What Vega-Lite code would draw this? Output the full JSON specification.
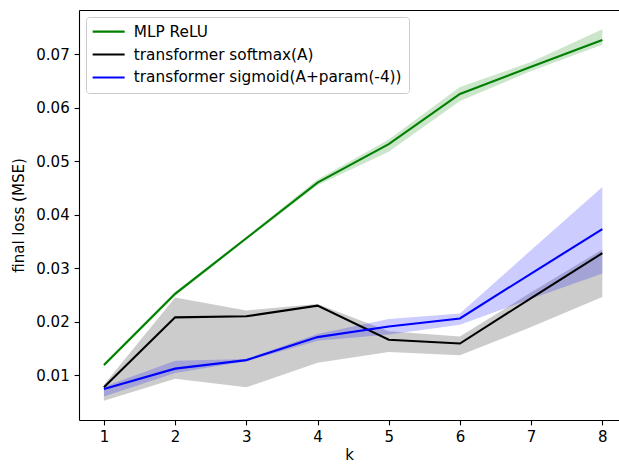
{
  "$schema": "https://vega.github.io/schema/vega-lite/v6.json",
  "width": 540,
  "height": 410,
  "autosize": {"type": "none"},
  "padding": {"left": 79, "top": 10, "right": 0, "bottom": 44},
  "background": "white",
  "config": {
    "font": "DejaVu Sans",
    "view": {"stroke": null},
    "axis": {
      "grid": false,
      "domainColor": "black",
      "domainWidth": 1.1,
      "tickColor": "black",
      "tickWidth": 1.1,
      "tickSize": 4.9,
      "labelPadding": 4.9,
      "labelFontSize": 15,
      "labelColor": "black",
      "titleFontSize": 15,
      "titleFontWeight": "normal",
      "titleColor": "black",
      "labelFont": "DejaVu Sans",
      "titleFont": "DejaVu Sans"
    }
  },
  "data": {
    "values": [
      {"model": "MLP ReLU", "k": 1, "mean": 0.0119, "lo": 0.0115, "hi": 0.0122},
      {"model": "MLP ReLU", "k": 2, "mean": 0.0252, "lo": 0.0248, "hi": 0.0256},
      {"model": "MLP ReLU", "k": 3, "mean": 0.0356, "lo": 0.0353, "hi": 0.0359},
      {"model": "MLP ReLU", "k": 4, "mean": 0.0460, "lo": 0.0455, "hi": 0.0466},
      {"model": "MLP ReLU", "k": 5, "mean": 0.0532, "lo": 0.0518, "hi": 0.0541},
      {"model": "MLP ReLU", "k": 6, "mean": 0.0626, "lo": 0.0613, "hi": 0.0639},
      {"model": "MLP ReLU", "k": 7, "mean": 0.0677, "lo": 0.0669, "hi": 0.0686},
      {"model": "MLP ReLU", "k": 8, "mean": 0.0727, "lo": 0.0718, "hi": 0.0747},
      {"model": "transformer softmax(A)", "k": 1, "mean": 0.0077, "lo": 0.0052, "hi": 0.0082},
      {"model": "transformer softmax(A)", "k": 2, "mean": 0.0208, "lo": 0.0093, "hi": 0.0245},
      {"model": "transformer softmax(A)", "k": 3, "mean": 0.0210, "lo": 0.0077, "hi": 0.0221},
      {"model": "transformer softmax(A)", "k": 4, "mean": 0.0230, "lo": 0.0123, "hi": 0.0233},
      {"model": "transformer softmax(A)", "k": 5, "mean": 0.0166, "lo": 0.0143, "hi": 0.0182},
      {"model": "transformer softmax(A)", "k": 6, "mean": 0.0159, "lo": 0.0137, "hi": 0.0172},
      {"model": "transformer softmax(A)", "k": 7, "mean": 0.0244, "lo": 0.0190, "hi": 0.0255},
      {"model": "transformer softmax(A)", "k": 8, "mean": 0.0328, "lo": 0.0246, "hi": 0.0335},
      {"model": "transformer sigmoid(A+param(-4))", "k": 1, "mean": 0.0074, "lo": 0.0060, "hi": 0.0078},
      {"model": "transformer sigmoid(A+param(-4))", "k": 2, "mean": 0.0112, "lo": 0.0104, "hi": 0.0127},
      {"model": "transformer sigmoid(A+param(-4))", "k": 3, "mean": 0.0128, "lo": 0.0126, "hi": 0.0130},
      {"model": "transformer sigmoid(A+param(-4))", "k": 4, "mean": 0.0171, "lo": 0.0164, "hi": 0.0177},
      {"model": "transformer sigmoid(A+param(-4))", "k": 5, "mean": 0.0191, "lo": 0.0176, "hi": 0.0205},
      {"model": "transformer sigmoid(A+param(-4))", "k": 6, "mean": 0.0206, "lo": 0.0194, "hi": 0.0215},
      {"model": "transformer sigmoid(A+param(-4))", "k": 7, "mean": 0.0290, "lo": 0.0243, "hi": 0.0334},
      {"model": "transformer sigmoid(A+param(-4))", "k": 8, "mean": 0.0373, "lo": 0.0290, "hi": 0.0452}
    ]
  },
  "resolve": {"axis": {"x": "independent", "y": "independent"}, "legend": {"stroke": "independent", "fill": "independent"}},
  "layer": [
    {
      "mark": {"type": "area", "opacity": 0.2},
      "encoding": {
        "x": {"field": "k", "type": "quantitative", "scale": {"domain": [0.65, 8.234], "nice": false, "zero": false},
              "axis": {"orient": "top", "labels": false, "ticks": false, "title": null, "domain": true}},
        "y": {"field": "lo", "type": "quantitative", "scale": {"domain": [0.00159, 0.07832], "nice": false, "zero": false},
              "axis": {"orient": "right", "labels": false, "ticks": false, "title": null, "domain": false}},
        "y2": {"field": "hi"},
        "fill": {"field": "model", "type": "nominal",
                 "scale": {"domain": ["MLP ReLU", "transformer softmax(A)", "transformer sigmoid(A+param(-4))"], "range": ["#008000", "#000000", "#0000ff"]},
                 "legend": null},
        "detail": {"field": "model"}
      }
    },
    {
      "mark": {"type": "line", "strokeWidth": 2.1},
      "encoding": {
        "x": {"field": "k", "type": "quantitative", "scale": {"domain": [0.65, 8.234], "nice": false, "zero": false},
              "axis": {"values": [1, 2, 3, 4, 5, 6, 7, 8], "title": "k", "titlePadding": 3}},
        "y": {"field": "mean", "type": "quantitative", "scale": {"domain": [0.00159, 0.07832], "nice": false, "zero": false},
              "axis": {"values": [0.01, 0.02, 0.03, 0.04, 0.05, 0.06, 0.07], "format": ".2f", "title": "final loss (MSE)", "titlePadding": 9}},
        "stroke": {"field": "model", "type": "nominal",
                   "scale": {"domain": ["MLP ReLU", "transformer softmax(A)", "transformer sigmoid(A+param(-4))"], "range": ["#008000", "#000000", "#0000ff"]},
                   "legend": {
                     "title": null, "orient": "top-left", "offset": 7,
                     "symbolType": "M-3.2,0H3.2", "symbolSize": 100, "symbolStrokeWidth": 2.1, "symbolOffset": 8,
                     "labelFontSize": 15.3, "labelFont": "DejaVu Sans", "labelColor": "black", "labelOffset": 17.5,
                     "labelLimit": 0,
                     "rowPadding": 6.9, "padding": 7,
                     "fillColor": "rgba(255,255,255,0.8)", "strokeColor": "#cccccc", "cornerRadius": 3
                   }}
      }
    }
  ]
}
